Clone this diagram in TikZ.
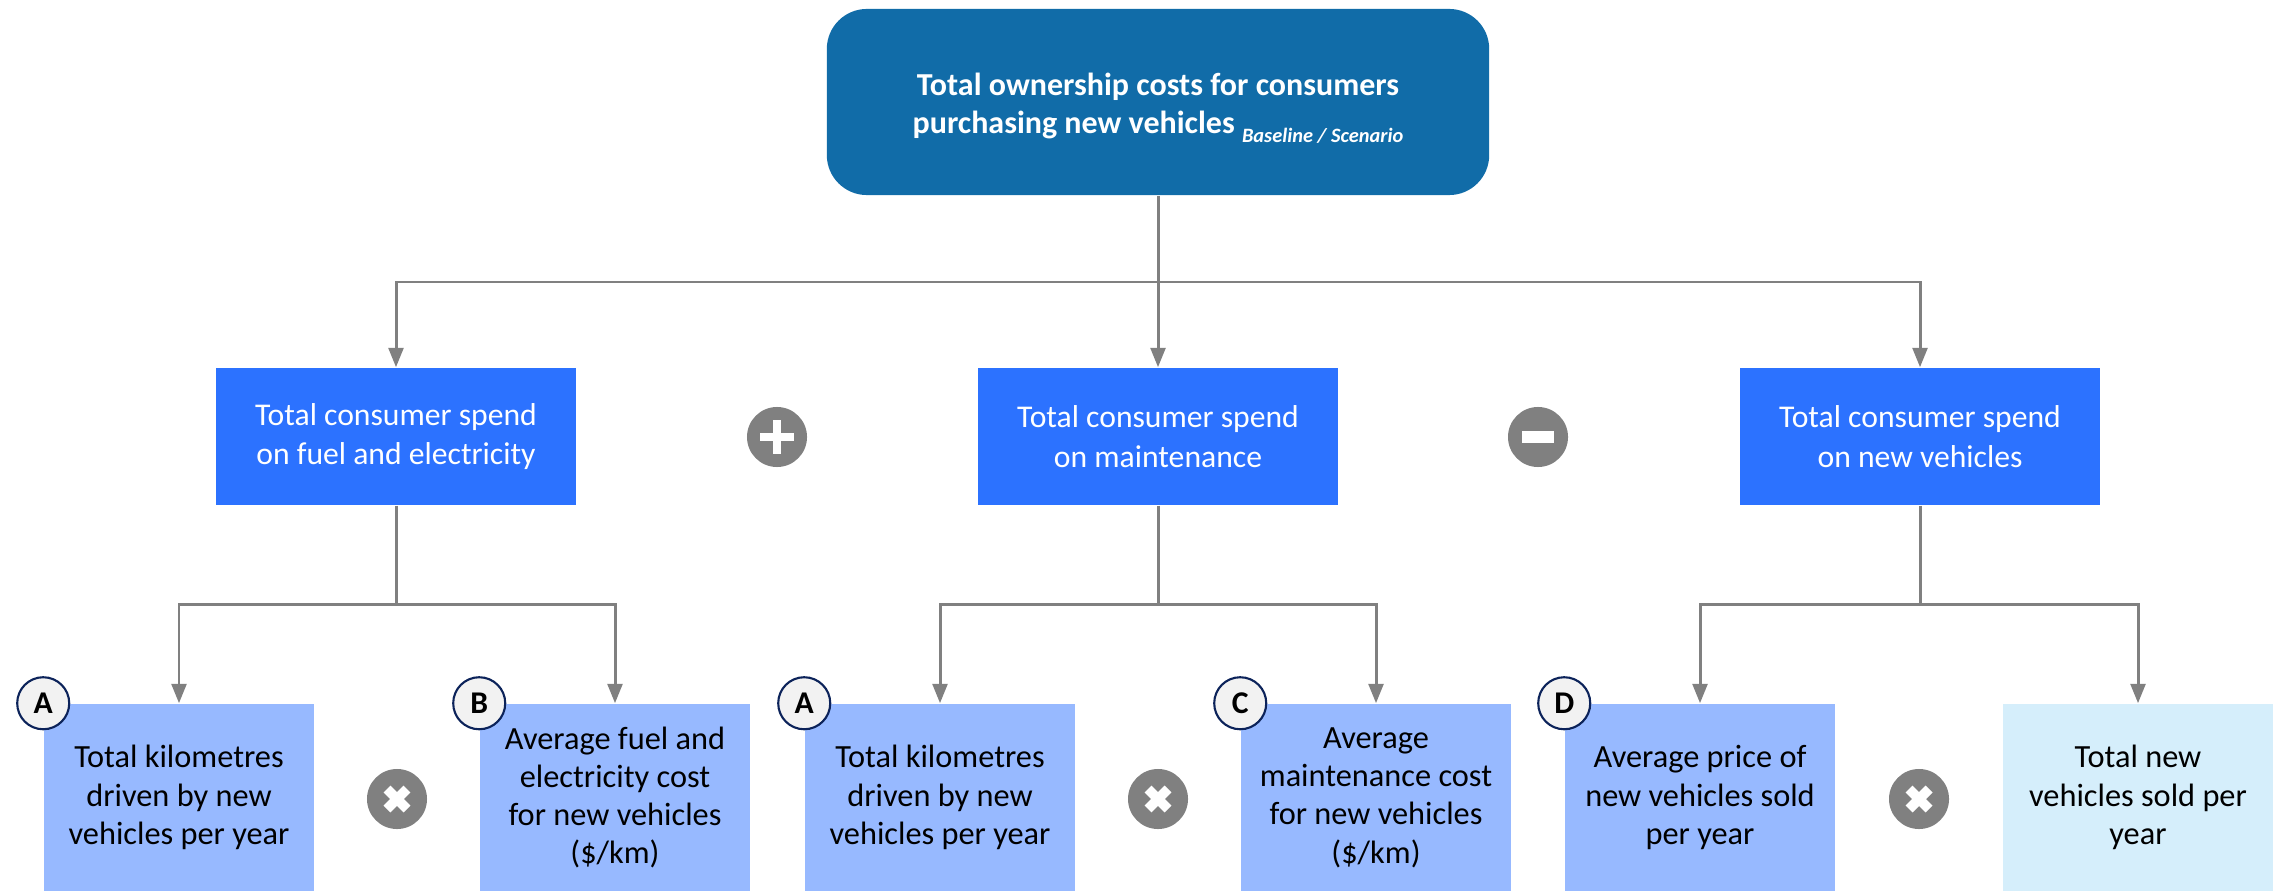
\documentclass[tikz,border=0pt]{standalone}
\usepackage{fontspec}
\setmainfont{Carlito}
\usepackage{tikz}
\usepackage{xcolor}
\usetikzlibrary{arrows.meta}
\definecolor{TopBleu}{RGB}{17,108,168}
\definecolor{MidBleu}{RGB}{44,114,255}
\definecolor{BasBleu}{RGB}{151,185,255}
\definecolor{PaleBleu}{RGB}{213,238,251}
\definecolor{Gris}{RGB}{128,128,128}
\definecolor{Marine}{RGB}{12,35,90}
\tikzset{
TopBoite/.style={
 fill=TopBleu, 
 rounded corners=0.4cm, 
 minimum width=6.62cm, 
 minimum height=1.86cm
 },
TopTexte/.style={
 align=center, 
 text=white, 
 font=\fontsize{9.1}{11}\selectfont\bfseries
 },
MidBoite/.style={
 fill=MidBleu, 
 minimum width=3.6cm, 
 minimum height=1.37cm, 
 align=center, 
 text=white, 
 font=\fontsize{9}{11.2}\selectfont
 },
BasBoite/.style={
 fill=#1, 
 minimum width=2.7cm, 
 minimum height=1.87cm, 
 align=center, 
 text=black, 
 font=\fontsize{9.2}{10.9}\selectfont
 },
BasBoite/.default={BasBleu},
Lettre/.style={
 circle, 
 draw=Marine, 
 fill=black!5, 
 line width=0.6pt, 
 minimum size=0.52cm, 
 inner sep=0pt, 
 font=\fontsize{9}{9}\selectfont\bfseries
 },
Op/.style={
 circle, 
 fill=Gris, 
 minimum size=0.6cm, 
 inner sep=0pt
 },
Signe/.style={
 draw=white, 
 line width=#1
 },
Signe/.default={2pt},
Lien/.style={
 draw=Gris, 
 line width=0.85pt
 },
Fleche/.style={
 Lien, 
 -{Triangle[length=5.5pt,width=4.2pt]}
 }
}
\begin{document}
\begin{tikzpicture}[x=0.01cm,y=-0.01cm]
\useasboundingbox (0,0) rectangle (2282,891);
% niveau 1
\node[TopBoite] (top) at (1158,102) {};
\node[TopTexte] (toptxt) at (1158,108) {Total ownership costs for consumers\\purchasing new vehicles \raisebox{-2.5pt}{\fontsize{5.8}{6}\selectfont\itshape Baseline / Scenario}};
% niveau 2
\node[MidBoite] (fuel) at (396,436.5) {Total consumer spend\\on fuel and electricity};
\node[MidBoite] (maint) at (1158,436.5) {Total consumer spend\\on maintenance};
\node[MidBoite] (newv) at (1920,436.5) {Total consumer spend\\on new vehicles};
\node[Op] (plus) at (777,437) {};
\node[Op] (moins) at (1538,437) {};
\draw[Signe=2.2pt] (plus.center) +(-17,0) -- +(17,0);
\draw[Signe=2.2pt] (plus.center) +(0,-17) -- +(0,17);
\draw[Signe=3.2pt] (moins.center) +(-16,0) -- +(16,0);
% niveau 3
\node[BasBoite] (kmA) at (179,797.5) {Total kilometres\\driven by new\\vehicles per year};
\node[BasBoite] (fuelB) at (615,797.5) {Average fuel and\\electricity cost\\for new vehicles\\(\$/km)};
\node[BasBoite] (kmA2) at (940,797.5) {Total kilometres\\driven by new\\vehicles per year};
\node[BasBoite] (maintC) at (1376,797.5) {Average\\maintenance cost\\for new vehicles\\(\$/km)};
\node[BasBoite] (priceD) at (1700,797.5) {Average price of\\new vehicles sold\\per year};
\node[BasBoite=PaleBleu] (sold) at (2138,797.5) {Total new\\vehicles sold per\\year};
\foreach \b/\l in {kmA/A,fuelB/B,kmA2/A,maintC/C,priceD/D}
 \node[Lettre] (l\b) at (\b.north west) {\l};
\foreach \n/\x in {fois1/397,fois2/1158,fois3/1919} {
 \node[Op] (\n) at (\x,799) {};
 \draw[Signe=2.8pt] (\n.center) +(-10,-10) -- +(10,10);
 \draw[Signe=2.8pt] (\n.center) +(-10,10) -- +(10,-10);
}
% liens
\coordinate (jtop) at (1158,282);
\coordinate (jfuel) at (396,604);
\coordinate (jmaint) at (1158,604);
\coordinate (jnewv) at (1920,604);
\draw[Lien] (top.south) -- (jtop);
\draw[Fleche] (jtop) -| (fuel.north);
\draw[Fleche] (jtop) -- (maint.north);
\draw[Fleche] (jtop) -| (newv.north);
\draw[Lien] (fuel.south) -- (jfuel);
\draw[Fleche] (jfuel) -| (kmA.north);
\draw[Fleche] (jfuel) -| (fuelB.north);
\draw[Lien] (maint.south) -- (jmaint);
\draw[Fleche] (jmaint) -| (kmA2.north);
\draw[Fleche] (jmaint) -| (maintC.north);
\draw[Lien] (newv.south) -- (jnewv);
\draw[Fleche] (jnewv) -| (priceD.north);
\draw[Fleche] (jnewv) -| (sold.north);
\end{tikzpicture}
\end{document}
